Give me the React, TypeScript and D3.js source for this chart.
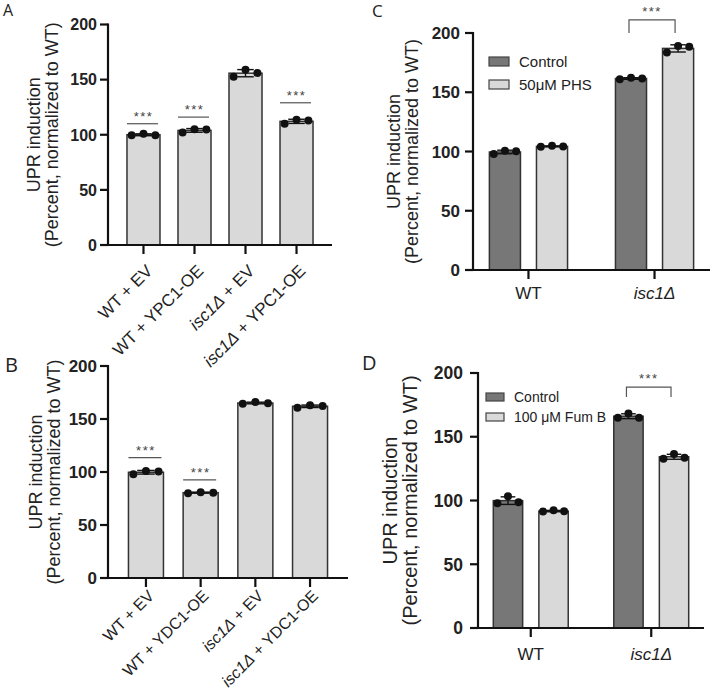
import React from 'react';
import * as d3 from 'd3';

// ---------- shared ----------
const yTicks = [0, 50, 100, 150, 200];
const yTitle1 = 'UPR induction';
const yTitle2 = '(Percent, normalized to WT)';

// ---------- Panel A ----------
const catsA = ['WT + EV', 'WT + YPC1-OE', 'isc1Δ + EV', 'isc1Δ + YPC1-OE'];
const repsA = [
  [99.5, 101, 99.5],
  [102, 105, 104.8],
  [152.5, 159, 156],
  [110, 113.5, 113],
];
const sigA: (number | null)[] = [110, 116, null, 129];

// ---------- Panel B ----------
const catsB = ['WT + EV', 'WT + YDC1-OE', 'isc1Δ + EV', 'isc1Δ + YDC1-OE'];
const repsB = [
  [97.8, 101, 100.5],
  [80, 81, 80.5],
  [164.5, 166, 164.8],
  [160.7, 163, 162.3],
];
const sigB: (number | null)[] = [113.5, 92.5, null, null];

// ---------- Panel C ----------
const groupsC = ['WT', 'isc1Δ'];
const seriesC = ['Control', '50μM PHS'];
const controlC = [
  [97.9, 100.7, 100.2],
  [161, 162.3, 161.5],
];
const phsC = [
  [104, 104.8, 104.2],
  [183.5, 189, 188.5],
];
const bracketC = 211;

// ---------- Panel D ----------
const groupsD = ['WT', 'isc1Δ'];
const seriesD = ['Control', '100 μM Fum B'];
const controlD = [
  [97.8, 103.3, 98.6],
  [165, 168.3, 165],
];
const fumD = [
  [91.3, 92.3, 91.5],
  [132.8, 136.5, 133.6],
];
const bracketD = 189;

const LIGHT = '#d9d9d9';
const DARK = '#777777';
const FONT = 'Liberation Sans, Arial, sans-serif';

function label(s: string) {
  if (s.startsWith('isc1Δ')) {
    return (
      <>
        <tspan fontStyle="italic">isc1Δ</tspan>
        {s.slice(5)}
      </>
    );
  }
  return s;
}

type Bar = { key: string; x: number; w: number; fill: string; reps: number[] };

type PanelCfg = {
  letter: string;
  letterX: number;
  letterY: number;
  letterSize: number;
  axisX: number;
  y0: number;
  yTop: number;
  xEnd: number;
  tickFont: number;
  tickGap: number;
  titleFont: number;
  titleOff: [number, number];
};

function Axes({ cfg, y }: { cfg: PanelCfg; y: d3.ScaleLinear<number, number> }) {
  const midY = (cfg.y0 + cfg.yTop) / 2;
  return (
    <g>
      <text x={cfg.letterX} y={cfg.letterY} fontFamily="Open Sans, sans-serif" fontSize={cfg.letterSize} fill="#222">
        {cfg.letter}
      </text>
      {yTicks.map((t) => (
        <g key={t}>
          <line x1={cfg.axisX - 8} x2={cfg.axisX} y1={y(t)} y2={y(t)} stroke="#111" strokeWidth={2.2} />
          <text
            x={cfg.axisX - cfg.tickGap}
            y={y(t)}
            dy="0.36em"
            textAnchor="end"
            fontFamily={FONT}
            fontWeight="bold"
            fontSize={cfg.tickFont}
            fill="#222"
          >
            {t}
          </text>
        </g>
      ))}
      <line x1={cfg.axisX} x2={cfg.axisX} y1={cfg.y0 + 1} y2={y(200) - 1} stroke="#111" strokeWidth={2.2} />
      <line x1={cfg.axisX - 1} x2={cfg.xEnd} y1={cfg.y0} y2={cfg.y0} stroke="#111" strokeWidth={2.2} />
      <text
        transform={`translate(${cfg.axisX + cfg.titleOff[0]},${midY}) rotate(-90)`}
        textAnchor="middle"
        fontFamily={FONT}
        fontSize={cfg.titleFont}
        fill="#222"
      >
        {yTitle1}
      </text>
      <text
        transform={`translate(${cfg.axisX + cfg.titleOff[1]},${midY}) rotate(-90)`}
        textAnchor="middle"
        fontFamily={FONT}
        fontSize={cfg.titleFont}
        fill="#222"
      >
        {yTitle2}
      </text>
    </g>
  );
}

function Bars({ bars, y }: { bars: Bar[]; y: d3.ScaleLinear<number, number> }) {
  return (
    <g>
      {bars.map((b) => {
        const m = d3.mean(b.reps) as number;
        const sd = (d3.deviation(b.reps) as number) || 0;
        const cx = b.x + b.w / 2;
        const cap = b.w * 0.25;
        const offs = [-0.36, 0, 0.36];
        return (
          <g key={b.key}>
            <rect x={b.x} y={y(m)} width={b.w} height={y(0) - y(m)} fill={b.fill} stroke="#333" strokeWidth={1.5} />
            <line x1={cx} x2={cx} y1={y(m - sd)} y2={y(m + sd)} stroke="#111" strokeWidth={1.4} />
            <line x1={cx - cap} x2={cx + cap} y1={y(m + sd)} y2={y(m + sd)} stroke="#111" strokeWidth={1.4} />
            <line x1={cx - cap} x2={cx + cap} y1={y(m - sd)} y2={y(m - sd)} stroke="#111" strokeWidth={1.4} />
            {b.reps.map((v, i) => (
              <circle key={i} cx={cx + offs[i] * b.w} cy={y(v)} r={4} fill="#111" />
            ))}
          </g>
        );
      })}
    </g>
  );
}

function Stars({ x, yc }: { x: number; yc: number }) {
  return (
    <text x={x} y={yc + 7} textAnchor="middle" fontFamily={FONT} fontSize={13} letterSpacing={1.5} fill="#444">
      ***
    </text>
  );
}

function SinglePanel({
  cfg, cats, reps, sig, pi, po, labDx, labDy, labFont,
}: { cfg: PanelCfg; cats: string[]; reps: number[][]; sig: (number | null)[]; pi: number; po: number; labDx: number; labDy: number; labFont: number }) {
  const y = d3.scaleLinear().domain([0, 200]).range([cfg.y0, cfg.yTop]);
  const x = d3.scaleBand<string>().domain(cats).range([cfg.axisX, cfg.xEnd]).paddingInner(pi).paddingOuter(po);
  const bw = x.bandwidth();
  const bars: Bar[] = cats.map((c, i) => ({ key: c, x: x(c) as number, w: bw, fill: LIGHT, reps: reps[i] }));
  return (
    <g>
      <Bars bars={bars} y={y} />
      <Axes cfg={cfg} y={y} />
      {cats.map((c) => {
        const cx = (x(c) as number) + bw / 2;
        return (
          <g key={c}>
            <line x1={cx} x2={cx} y1={cfg.y0} y2={cfg.y0 + 9} stroke="#111" strokeWidth={2.2} />
            <text
              transform={`translate(${cx + labDx},${cfg.y0 + labDy}) rotate(-45)`}
              textAnchor="end"
              fontFamily={FONT}
              fontSize={labFont}
              fill="#222"
            >
              {label(c)}
            </text>
          </g>
        );
      })}
      {cats.map((c, i) => {
        const s = sig[i];
        if (s == null) return null;
        const x0 = x(c) as number;
        return (
          <g key={'s' + c}>
            <line x1={x0} x2={x0 + bw - 2} y1={y(s)} y2={y(s)} stroke="#555" strokeWidth={1.2} />
            <Stars x={x0 + bw / 2} yc={y(s) - 10} />
          </g>
        );
      })}
    </g>
  );
}

function GroupPanel({
  cfg, groups, series, a, b, bracket, pi, po, ipi, legendX, legendY, legendW, legendH, legendGap, legendFont, xLabFont, xLabDy, legLeg,
}: {
  cfg: PanelCfg; groups: string[]; series: string[]; a: number[][]; b: number[][]; bracket: number; pi: number; po: number; ipi: number;
  legendX: number; legendY: number; legendW: number; legendH: number; legendGap: number; legendFont: number; xLabFont: number; xLabDy: number; legLeg: number;
}) {
  const y = d3.scaleLinear().domain([0, 200]).range([cfg.y0, cfg.yTop]);
  const x = d3.scaleBand<string>().domain(groups).range([cfg.axisX, cfg.xEnd]).paddingInner(pi).paddingOuter(po);
  const xi = d3.scaleBand<string>().domain(series).range([0, x.bandwidth()]).paddingInner(ipi).paddingOuter(0);
  const bw = xi.bandwidth();
  const fills = [DARK, LIGHT];
  const bars: Bar[] = [];
  groups.forEach((g, gi) => {
    series.forEach((s, si) => {
      bars.push({ key: g + s, x: (x(g) as number) + (xi(s) as number), w: bw, fill: fills[si], reps: si === 0 ? a[gi] : b[gi] });
    });
  });
  const g2 = groups[1];
  const bx1 = (x(g2) as number) + (xi(series[0]) as number) + bw / 2 - 2;
  const bx2 = (x(g2) as number) + (xi(series[1]) as number) + bw / 2 - 3;
  return (
    <g>
      <Bars bars={bars} y={y} />
      <Axes cfg={cfg} y={y} />
      {groups.map((g) => {
        const cx = (x(g) as number) + x.bandwidth() / 2;
        return (
          <g key={g}>
            <line x1={cx} x2={cx} y1={cfg.y0} y2={cfg.y0 + 9} stroke="#111" strokeWidth={2.2} />
            <text x={cx} y={cfg.y0 + xLabDy} textAnchor="middle" fontFamily={FONT} fontSize={xLabFont} fill="#222">
              {label(g)}
            </text>
          </g>
        );
      })}
      {series.map((s, i) => (
        <g key={s}>
          <rect x={legendX} y={legendY + i * legendGap} width={legendW} height={legendH} fill={fills[i]} stroke="#444" strokeWidth={1.2} />
          <text x={legendX + legendW + 10} y={legendY + i * legendGap + legendH / 2} dy="0.36em" fontFamily={FONT} fontSize={legendFont} fill="#222">
            {s}
          </text>
        </g>
      ))}
      <path
        d={`M${bx1},${y(bracket) + legLeg}V${y(bracket)}H${bx2}V${y(bracket) + legLeg}`}
        fill="none"
        stroke="#555"
        strokeWidth={1.2}
      />
      <Stars x={(bx1 + bx2) / 2} yc={y(bracket) - 11} />
    </g>
  );
}

const cfgA: PanelCfg = { letter: 'A', letterX: 3, letterY: 16, letterSize: 16, axisX: 108, y0: 245, yTop: 24.5, xEnd: 332, tickFont: 16, tickGap: 11, titleFont: 18, titleOff: [-68, -50] };
const cfgB: PanelCfg = { letter: 'B', letterX: 5, letterY: 372, letterSize: 20, axisX: 108, y0: 578, yTop: 366, xEnd: 348, tickFont: 17, tickGap: 11, titleFont: 18, titleOff: [-66, -48] };
const cfgC: PanelCfg = { letter: 'C', letterX: 372, letterY: 17, letterSize: 17, axisX: 473, y0: 270, yTop: 33, xEnd: 710, tickFont: 17, tickGap: 13, titleFont: 18, titleOff: [-73, -55] };
const cfgD: PanelCfg = { letter: 'D', letterX: 362, letterY: 370, letterSize: 20, axisX: 478, y0: 628, yTop: 373, xEnd: 704, tickFont: 17.5, tickGap: 15, titleFont: 20, titleOff: [-81, -61] };

export default function App() {
  return (
    <svg width={712} height={691} style={{ position: 'absolute', left: 0, top: 0, background: '#fff' }}>
      <rect width={712} height={691} fill="#fff" />
      <SinglePanel cfg={cfgA} cats={catsA} reps={repsA} sig={sigA} pi={0.353} po={0.372} labDx={10} labDy={27} labFont={17} />
      <SinglePanel cfg={cfgB} cats={catsB} reps={repsB} sig={sigB} pi={0.36} po={0.374} labDx={9} labDy={19} labFont={16} />
      <GroupPanel
        cfg={cfgC} groups={groupsC} series={seriesC} a={controlC} b={phsC} bracket={bracketC}
        pi={0.38} po={0.13} ipi={0.34}
        legendX={489} legendY={57} legendW={20} legendH={9} legendGap={23} legendFont={15}
        xLabFont={17} xLabDy={29} legLeg={13}
      />
      <GroupPanel
        cfg={cfgD} groups={groupsD} series={seriesD} a={controlD} b={fumD} bracket={bracketD}
        pi={0.378} po={0.127} ipi={0.356}
        legendX={486} legendY={393} legendW={18} legendH={8} legendGap={20} legendFont={14}
        xLabFont={17} xLabDy={32} legLeg={10}
      />
    </svg>
  );
}
